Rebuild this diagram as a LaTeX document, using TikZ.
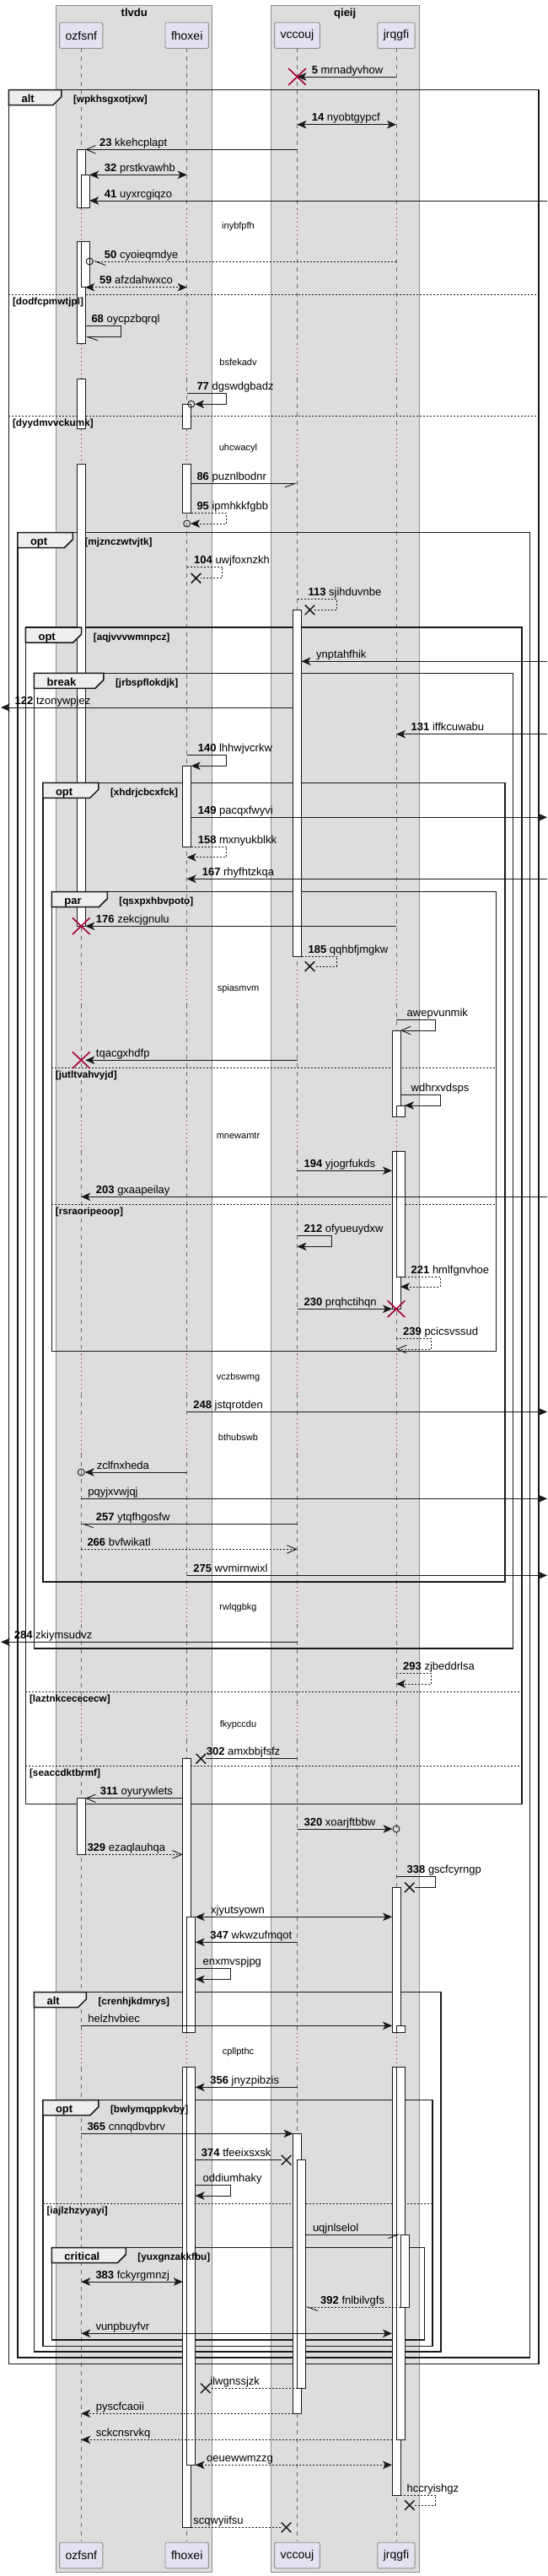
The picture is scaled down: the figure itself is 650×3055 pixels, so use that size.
\documentclass[tikz,border=0pt]{standalone}
\usepackage{fontspec}
\setmainfont{Liberation Sans}
\usetikzlibrary{arrows.meta, positioning, shapes.misc}

\definecolor{boxgray}{HTML}{DDDDDD}
\definecolor{boxline}{HTML}{8C8C8C}
\definecolor{headfill}{HTML}{E2E2F0}
\definecolor{headline}{HTML}{8F8F8F}
\definecolor{lifegray}{HTML}{6E6E6E}
\definecolor{lifered}{HTML}{A80036}
\definecolor{tabfill}{HTML}{EEEEEE}
\definecolor{ink}{HTML}{181818}

\newcommand{\msgfont}{\fontsize{13pt}{15pt}\selectfont}
\newcommand{\smallfont}{\fontsize{11pt}{13pt}\selectfont}
\newcommand{\guardfont}{\fontsize{11.7pt}{13pt}\selectfont}

\begin{document}
\begin{tikzpicture}[x=1pt, y=-1pt,
   grp/.style={draw=boxline, fill=boxgray, line width=0.8pt},
   grptitle/.style={anchor=base, font=\msgfont\bfseries, inner sep=0pt},
   head/.style={draw=headline, fill=headfill, rounded corners=2pt, line width=0.9pt, minimum height=30.6pt, inner xsep=7pt, font=\fontsize{14pt}{16pt}\selectfont},
   life/.style={draw=lifegray, line width=0.8pt, dash pattern=on 5pt off 5pt},
   delay/.style={draw=lifered, line width=0.8pt, dash pattern=on 1pt off 4pt},
   delaytext/.style={anchor=base, font=\smallfont, inner sep=0pt},
   frame/.style={draw=ink, line width=1.5pt},
   tab/.style={draw=ink, fill=tabfill, line width=1.5pt},
   tabtext/.style={anchor=base west, font=\msgfont\bfseries, inner sep=0pt},
   guardtext/.style={anchor=base west, font=\guardfont\bfseries, inner sep=0pt},
   sep/.style={draw=ink, line width=0.9pt, dash pattern=on 2pt off 2pt},
   bar/.style={draw=ink, fill=white, line width=0.9pt},
   msg/.style={draw=ink, line width=0.9pt},
   dot/.style={dash pattern=on 2pt off 2pt},
   fhead/.style={-{Stealth[length=11pt, width=9.5pt, inset=3pt]}},
   bhead/.style={{Stealth[length=11pt, width=9.5pt, inset=3pt]}-{Stealth[length=11pt, width=9.5pt, inset=3pt]}},
   ohead/.style={-{Straight Barb[length=11pt, width=9.5pt]}},
   lhalf/.style={-{Straight Barb[length=12pt, width=9pt, left]}},
   rhalf/.style={-{Straight Barb[length=12pt, width=9pt, right]}},
   mtext/.style={anchor=base west, font=\msgfont, inner sep=0pt},
   destroy/.style={cross out, draw=lifered, line width=1.6pt, minimum width=19pt, minimum height=18pt, inner sep=0pt},
   xend/.style={cross out, draw=ink, line width=1.5pt, minimum width=10pt, minimum height=10pt, inner sep=0pt},
   ocirc/.style={circle, draw=ink, line width=0.9pt, minimum size=8pt, inner sep=0pt}
]
\useasboundingbox (0,0) rectangle (650,3055);

% Boxes
\draw[grp] (66.7,6) rectangle (251.7,3050.3);
\draw[grp] (321.25,6) rectangle (497.1,3050.3);
\node[grptitle] (b-tlvdu) at (159.2,19.5) {tlvdu};
\node[grptitle] (b-qieij) at (409.2,19.5) {qieij};

% Participants
\node[head] (oz) at (96.25,42) {ozfsnf};
\node[head] (fh) at (221.7,42) {fhoxei};
\node[head] (vc) at (352.5,42) {vccouj};
\node[head] (jr) at (470,42) {jrqgfi};
\node[head, below=2957pt of oz] (ozb) {ozfsnf};
\node[head, below=2957pt of fh] (fhb) {fhoxei};
\node[head, below=2957pt of vc] (vcb) {vccouj};
\node[head, below=2957pt of jr] (jrb) {jrqgfi};

% Bar edges and page edges
\coordinate (ozR) at ([xshift=5pt]oz.center);
\coordinate (ozRR) at ([xshift=10pt]oz.center);
\coordinate (fhL) at ([xshift=-5pt]fh.center);
\coordinate (fhR) at ([xshift=5pt]fh.center);
\coordinate (fhRR) at ([xshift=10pt]fh.center);
\coordinate (vcL) at ([xshift=-5pt]vc.center);
\coordinate (vcR) at ([xshift=5pt]vc.center);
\coordinate (vcRR) at ([xshift=10pt]vc.center);
\coordinate (jrL) at ([xshift=-5pt]jr.center);
\coordinate (jrR) at ([xshift=5pt]jr.center);
\coordinate (jrRR) at ([xshift=10pt]jr.center);
\coordinate (farL) at (1,0);
\coordinate (farR) at (649,0);

% Lifelines
\foreach \who in {oz,fh,vc,jr}{
  \foreach \ya/\yb in {57.3/248, 287/408, 449/510, 550/1150, 1191/1324, 1365/1606, 1653/1683, 1724/1882, 1926/2022, 2063/2411, 2452/3014.3}
    \draw[life] (\who |- 0,\ya) -- (\who |- 0,\yb);
  \foreach \ya/\yb in {248/287, 408/449, 510/550, 1150/1191, 1324/1365, 1606/1653, 1683/1724, 1882/1926, 2022/2063, 2411/2452}
    \draw[delay] (\who |- 0,\ya) -- (\who |- 0,\yb);
}
\foreach \txt/\yy in {inybfpfh/267.7, bsfekadv/429.3, uhcwacyl/530.7, spiasmvm/1171.7, mnewamtr/1346.7, vczbswmg/1632.7, bthubswb/1704.3, rwlqgbkg/1905, fkypccdu/2044, cpllpthc/2432.3}
  \node[delaytext] (d-\txt) at (282.5,\yy+4) {\txt};

% Group frames
\foreach \lx/\ty/\rx/\by in {10.4/106.7/638.75/2803.3, 20.8/631.7/628.3/2796, 30.4/744/618.75/2139.3,
  40.4/798.3/608.3/1955, 50.8/928.3/598.75/1876, 61.25/1057.7/588.3/1602.7,
  40.4/2362.7/522.9/2789, 50.8/2490.7/512.9/2782.3, 61.25/2665.7/503.3/2775}
  \draw[frame] (\lx,\ty) rectangle (\rx,\by);
\foreach \lx/\rx/\yy in {10.4/638.75/349.3, 10.4/638.75/493.3, 61.25/588.3/1266.7, 61.25/588.3/1428.7,
  30.4/618.75/2006, 30.4/618.75/2094.3, 50.8/512.9/2613.3}
  \draw[sep] (\lx,\yy) -- (\rx,\yy);

% Activations
\foreach \cx/\ya/\yb in {
  96.25/177.3/246.7, 96.25/286.7/407.7, 96.25/449.3/508.3, 96.25/550/1098.3, 96.25/2132.7/2199.3,
  101.25/207.3/246.7, 101.25/286.7/340.7,
  221.7/479.3/508.3, 221.7/550/608.7, 221.7/908.3/1004.3, 221.7/2085.7/2410.7, 221.7/2451.7/2997.3,
  226.7/2273.3/2410.7, 226.7/2451.7/2923.3,
  352.5/723.3/1134, 352.5/2530.3/2862.3, 357.5/2561.7/2832.3,
  470/1222/1324.3, 470/1365.7/1552.3, 470/2238.3/2410.7, 470/2451.7/2959,
  475/1311/1324.3, 475/1365.7/1514, 475/2402.3/2410.7, 475/2451.7/2893.3,
  480/2650/2736}
  \draw[bar] (\cx-5,\ya) rectangle (\cx+5,\yb);

% Group tabs and guards
\foreach \kind/\guard/\lx/\ty/\tw in {
  alt/wpkhsgxotjxw/10.4/106.7/62.5,
  opt/mjznczwtvjtk/20.8/631.7/65.5,
  opt/aqjvvvwmnpcz/30.4/744/66.3,
  break/jrbspflokdjk/40.4/798.3/82.5,
  opt/xhdrjcbcxfck/50.8/928.3/66,
  par/qsxpxhbvpoto/61.25/1057.7/66,
  alt/crenhjkdmrys/40.4/2362.7/62,
  opt/bwlymqppkvby/50.8/2490.7/66,
  critical/yuxgnzakkfbu/61.25/2665.7/88}{
  \draw[tab] (\lx,\ty) -- ++(\tw,0) -- ++(0,8) -- ++(-10,10) -- (\lx,\ty+18) -- cycle;
  \node[tabtext] (k-\guard) at (\lx+15,\ty+15) {\kind};
  \node[guardtext] (g-\guard) at (\lx+\tw+14,\ty+15) {[\guard]};
}
\foreach \lx/\yy/\guard in {10.4/349.3/dodfcpmwtjpl, 10.4/493.3/dyydmvvckumk, 61.25/1266.7/jutltvahvyjd,
  61.25/1428.7/rsraoripeoop, 30.4/2006/laztnkcecececw, 30.4/2094.3/seaccdktbrmf, 50.8/2613.3/iajlzhzvyayi}
  \node[guardtext] (s-\guard) at (\lx+4.5,\yy+12) {[\guard]};

% Messages
\draw[msg, fhead] (jr |- 0,91) -- (vc |- 0,91);
\node[destroy] (x5) at (vc |- 0,91) {};
\node[mtext] (m5) at (369.6,87) {\textbf{5} mrnadyvhow};

% alt wpkhsgxotjxw
\draw[msg, bhead] (vc |- 0,147.7) -- (jr |- 0,147.7);
\node[mtext] (m14) at (369.6,143.7) {\textbf{14} nyobtgypcf};
\draw[msg, ohead] (vc |- 0,177.3) -- (ozR |- 0,177.3);
\node[mtext] (m23) at (117.9,173.3) {\textbf{23} kkehcplapt};
\draw[msg, bhead] (ozRR |- 0,207.3) -- (fh |- 0,207.3);
\node[mtext] (m32) at (123.75,203.3) {\textbf{32} prstkvawhb};
\draw[msg, fhead] (farR |- 0,238) -- (ozRR |- 0,238);
\node[mtext] (m41) at (123.75,234) {\textbf{41} uyxrcgiqzo};
\node[ocirc] (c50) at (ozRR |- 0,310) {};
\draw[msg, dot, lhalf] (jr |- 0,310) -- (c50.east);
\node[mtext] (m50) at (123.75,306) {\textbf{50} cyoieqmdye};
\draw[msg, dot, bhead] (ozR |- 0,340.7) -- (fh |- 0,340.7);
\node[mtext] (m59) at (117.9,336.7) {\textbf{59} afzdahwxco};
\draw[msg, lhalf] (ozR |- 0,386.7) -- ++(42,0) -- ++(0,12.6) -- (ozR |- 0,399.3);
\node[mtext] (m68) at (108.3,382.7) {\textbf{68} oycpzbqrql};
\node[ocirc] (c77) at (fhR |- 0,479.3) {};
\draw[msg, fhead] (fh |- 0,466.3) -- ++(47,0) -- ++(0,13) -- (c77.east);
\node[mtext] (m77) at (233.3,462.3) {\textbf{77} dgswdgbadz};
\draw[msg, rhalf] (fhR |- 0,573.3) -- (vc |- 0,573.3);
\node[mtext] (m86) at (233.3,569.3) {\textbf{86} puznlbodnr};
\node[ocirc] (c95) at (fh |- 0,621) {};
\draw[msg, dot, fhead] (fhR |- 0,608.7) -- ++(42,0) -- ++(0,12.3) -- (c95.east);
\node[mtext] (m95) at (233.3,604.7) {\textbf{95} ipmhkkfgbb};

% opt mjznczwtvjtk
\node[xend] (x104) at (232.5,685.7) {};
\draw[msg, dot] (fh |- 0,672.3) -- ++(42,0) -- ++(0,13.4) -- (x104);
\node[mtext] (m104) at (230,668.3) {\textbf{104} uwjfoxnzkh};
\node[xend] (x113) at (367.5,723.3) {};
\draw[msg, dot] (vc |- 0,710.3) -- ++(46.7,0) -- ++(0,13) -- (x113);
\node[mtext] (m113) at (365.4,706.3) {\textbf{113} sjihduvnbe};

% opt aqjvvvwmnpcz
\draw[msg, fhead] (farR |- 0,784.3) -- (vcR |- 0,784.3);
\node[mtext] (m118) at (375,780.3) {ynptahfhik};

% break jrbspflokdjk
\draw[msg, fhead] (vcL |- 0,839) -- (farL |- 0,839);
\node[mtext] (m122) at (17.5,835) {\textbf{122} tzonywpjez};
\draw[msg, fhead] (farR |- 0,870.7) -- (jr |- 0,870.7);
\node[mtext] (m131) at (487.5,866.7) {\textbf{131} iffkcuwabu};
\draw[msg, fhead] (fh |- 0,895.7) -- ++(47,0) -- ++(0,12.6) -- (fhR |- 0,908.3);
\node[mtext] (m140) at (234.6,891.7) {\textbf{140} lhhwjvcrkw};

% opt xhdrjcbcxfck
\draw[msg, fhead] (fhR |- 0,969.3) -- (farR |- 0,969.3);
\node[mtext] (m149) at (234.6,965.3) {\textbf{149} pacqxfwyvi};
\draw[msg, dot, fhead] (fhR |- 0,1004.3) -- ++(42,0) -- ++(0,12.4) -- (fh |- 0,1016.7);
\node[mtext] (m158) at (234.6,1000.3) {\textbf{158} mxnyukblkk};
\draw[msg, fhead] (farR |- 0,1042.3) -- (fh |- 0,1042.3);
\node[mtext] (m167) at (239.6,1038.3) {\textbf{167} rhyfhtzkqa};

% par qsxpxhbvpoto
\draw[msg, fhead] (jr |- 0,1098.3) -- (ozR |- 0,1098.3);
\node[destroy] (x176) at (oz |- 0,1098.3) {};
\node[mtext] (m176) at (113.75,1094.3) {\textbf{176} zekcjgnulu};
\node[xend] (x185) at (367.5,1146) {};
\draw[msg, dot] (vcR |- 0,1134) -- ++(41.7,0) -- ++(0,12) -- (x185);
\node[mtext] (m185) at (365.4,1130) {\textbf{185} qqhbfjmgkw};
\draw[msg, ohead] (jr |- 0,1209.3) -- ++(46.7,0) -- ++(0,12.7) -- (jrR |- 0,1222);
\node[mtext] (m190) at (482.5,1205.3) {awepvunmik};
\draw[msg, fhead] (vc |- 0,1257.3) -- (ozR |- 0,1257.3);
\node[destroy] (x192) at (oz |- 0,1257.3) {};
\node[mtext] (m192) at (113.75,1253.3) {tqacgxhdfp};
\draw[msg, fhead] (jrR |- 0,1298.3) -- ++(47,0) -- ++(0,12.7) -- (jrRR |- 0,1311);
\node[mtext] (m193) at (487.5,1294.3) {wdhrxvdsps};
\draw[msg, fhead] (vc |- 0,1388.3) -- (jrL |- 0,1388.3);
\node[mtext] (m194) at (360.4,1384.3) {\textbf{194} yjogrfukds};
\draw[msg, fhead] (farR |- 0,1419.3) -- (oz |- 0,1419.3);
\node[mtext] (m203) at (113.75,1415.3) {\textbf{203} gxaapeilay};
\draw[msg, fhead] (vc |- 0,1465.7) -- ++(41.25,0) -- ++(0,12.6) -- (vc |- 0,1478.3);
\node[mtext] (m212) at (360.4,1461.7) {\textbf{212} ofyueuydxw};
\draw[msg, dot, fhead] (jrRR |- 0,1514) -- ++(42,0) -- ++(0,12) -- (jrR |- 0,1526);
\node[mtext] (m221) at (487.5,1510) {\textbf{221} hmlfgnvhoe};
\draw[msg, fhead] (vc |- 0,1552.3) -- (jrL |- 0,1552.3);
\node[destroy] (x230) at (jr |- 0,1552.3) {};
\node[mtext] (m230) at (360.4,1548.3) {\textbf{230} prqhctihqn};
\draw[msg, dot, ohead] (jr |- 0,1587.3) -- ++(41.7,0) -- ++(0,12.7) -- (jr |- 0,1600);
\node[mtext] (m239) at (478,1583.3) {\textbf{239} pcicsvssud};

% back in opt xhdrjcbcxfck
\draw[msg, fhead] (fh |- 0,1674.3) -- (farR |- 0,1674.3);
\node[mtext] (m248) at (229.2,1670.3) {\textbf{248} jstqrotden};
\node[ocirc] (c250) at (oz |- 0,1746) {};
\draw[msg, fhead] (fh |- 0,1746) -- (c250.east);
\node[mtext] (m250) at (114.6,1742) {zclfnxheda};
\draw[msg, fhead] (oz |- 0,1777.3) -- (farR |- 0,1777.3);
\node[mtext] (m251) at (104.2,1773.3) {pqyjxvwjqj};
\draw[msg, lhalf] (vc |- 0,1807.3) -- (oz |- 0,1807.3);
\node[mtext] (m257) at (113.75,1803.3) {\textbf{257} ytqfhgosfw};
\draw[msg, dot, ohead] (oz |- 0,1837.3) -- (vc |- 0,1837.3);
\node[mtext] (m266) at (103.3,1833.3) {\textbf{266} bvfwikatl};
\draw[msg, fhead] (fh |- 0,1868.3) -- (farR |- 0,1868.3);
\node[mtext] (m275) at (229.2,1864.3) {\textbf{275} wvmirnwixl};

% back in break
\draw[msg, fhead] (vc |- 0,1947.3) -- (farL |- 0,1947.3);
\node[mtext] (m284) at (16.7,1943.3) {\textbf{284} zkiymsudvz};

% back in opt aqjvvvwmnpcz
\draw[msg, dot, fhead] (jr |- 0,1984.3) -- ++(41.7,0) -- ++(0,12.7) -- (jr |- 0,1997);
\node[mtext] (m293) at (478,1980.3) {\textbf{293} zjbeddrlsa};
\node[xend] (x302) at (238.3,2085.7) {};
\draw[msg] (vc |- 0,2085.7) -- (x302);
\node[mtext] (m302) at (244.6,2081.7) {\textbf{302} amxbbjfsfz};
\draw[msg, ohead] (fhL |- 0,2132.7) -- (ozR |- 0,2132.7);
\node[mtext] (m311) at (118.75,2128.7) {\textbf{311} oyurywlets};

% back in opt mjznczwtvjtk
\node[ocirc] (c320) at (jr |- 0,2169) {};
\draw[msg, fhead] (vc |- 0,2169) -- (c320.west);
\node[mtext] (m320) at (360.4,2165) {\textbf{320} xoarjftbbw};
\draw[msg, dot, ohead] (ozR |- 0,2199.3) -- (fhL |- 0,2199.3);
\node[mtext] (m329) at (103.3,2195.3) {\textbf{329} ezaqlauhqa};
\node[xend] (x338) at (485.8,2238.3) {};
\draw[msg] (jr |- 0,2225.3) -- ++(46.7,0) -- ++(0,13) -- (x338);
\node[mtext] (m338) at (482.5,2221.3) {\textbf{338} gscfcyrngp};
\draw[msg, bhead] (fhRR |- 0,2273.3) -- (jrL |- 0,2273.3);
\node[mtext] (m340) at (250,2269.3) {xjyutsyown};
\draw[msg, fhead] (vc |- 0,2303.3) -- (fhRR |- 0,2303.3);
\node[mtext] (m347) at (249.2,2299.3) {\textbf{347} wkwzufmqot};
\draw[msg, fhead] (fhRR |- 0,2334.3) -- ++(42,0) -- ++(0,13) -- (fhRR |- 0,2347.3);
\node[mtext] (m350) at (240.4,2330.3) {enxmvspjpg};

% alt crenhjkdmrys
\draw[msg, fhead] (oz |- 0,2402.3) -- (jrL |- 0,2402.3);
\node[mtext] (m351) at (104.2,2398.3) {helzhvbiec};
\draw[msg, fhead] (vc |- 0,2475.3) -- (fhRR |- 0,2475.3);
\node[mtext] (m356) at (249.2,2471.3) {\textbf{356} jnyzpibzis};

% opt bwlymqppkvby
\draw[msg, fhead] (oz |- 0,2530.3) -- (vcL |- 0,2530.3);
\node[mtext] (m365) at (103.3,2526.3) {\textbf{365} cnnqdbvbrv};
\node[xend] (x374) at (339.6,2561.7) {};
\draw[msg] (fhRR |- 0,2561.7) -- (x374);
\node[mtext] (m374) at (238.75,2557.7) {\textbf{374} tfeeixsxsk};
\draw[msg, fhead] (fhRR |- 0,2591.7) -- ++(42,0) -- ++(0,12.3) -- (fhRR |- 0,2604);
\node[mtext] (m378) at (240.4,2587.7) {oddiumhaky};
\draw[msg, rhalf] (vcRR |- 0,2650) -- (jrR |- 0,2650);
\node[mtext] (m379) at (370.8,2646) {uqjnlselol};

% critical yuxgnzakkfbu
\draw[msg, bhead] (oz |- 0,2706) -- (fhL |- 0,2706);
\node[mtext] (m383) at (113.3,2702) {\textbf{383} fckyrgmnzj};
\draw[msg, dot, lhalf] (jrR |- 0,2736) -- (vcRR |- 0,2736);
\node[mtext] (m392) at (380,2732) {\textbf{392} fnlbilvgfs};
\draw[msg, bhead] (oz |- 0,2767.3) -- (jrL |- 0,2767.3);
\node[mtext] (m395) at (113.3,2763.3) {vunpbuyfvr};

% after the groups
\node[xend] (x400) at (243.75,2832.3) {};
\draw[msg, dot] (vc |- 0,2832.3) -- (x400);
\node[mtext] (m400) at (249.2,2828.3) {ilwgnssjzk};
\draw[msg, dot, fhead] (vcL |- 0,2862.3) -- (oz |- 0,2862.3);
\node[mtext] (m401) at (113.75,2858.3) {pyscfcaoii};
\draw[msg, dot, fhead] (jrL |- 0,2893.3) -- (oz |- 0,2893.3);
\node[mtext] (m402) at (113.75,2889.3) {sckcnsrvkq};
\draw[msg, dot, bhead] (fhRR |- 0,2923.3) -- (jrL |- 0,2923.3);
\node[mtext] (m403) at (245,2919.3) {oeuewwmzzg};
\node[xend] (x404) at (485.8,2971) {};
\draw[msg, dot] (jrR |- 0,2959) -- ++(41.7,0) -- ++(0,12) -- (x404);
\node[mtext] (m404) at (482.5,2955) {hccryishgz};
\node[xend] (x405) at (339.5,2997.3) {};
\draw[msg, dot] (fhR |- 0,2997.3) -- (x405);
\node[mtext] (m405) at (229.2,2993.3) {scqwyiifsu};
\end{tikzpicture}
\end{document}
